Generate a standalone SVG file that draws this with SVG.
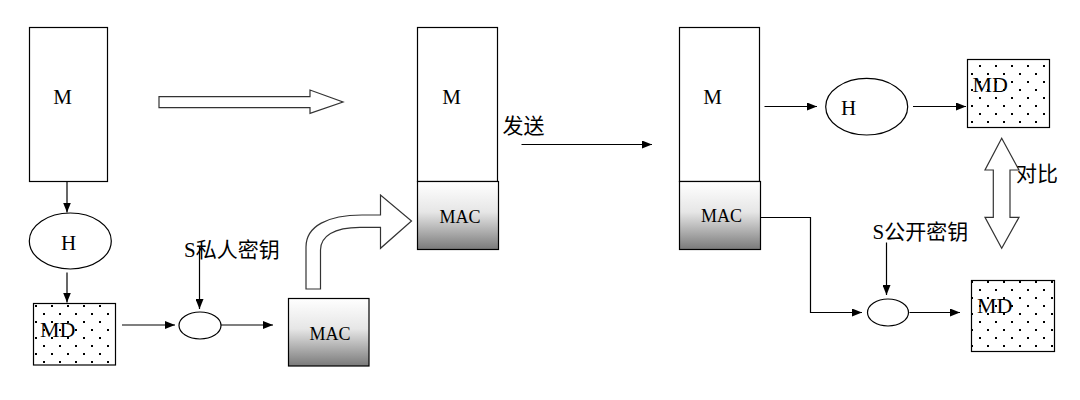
<svg xmlns="http://www.w3.org/2000/svg" width="1080" height="400" viewBox="0 0 1080 400">
<defs>
<style>
.box{fill:#fff;stroke:#000;stroke-width:1.2}
.mac{fill:url(#g);stroke:#000;stroke-width:1.2}
.md{fill:url(#dots);stroke:#000;stroke-width:1.2}
.ell{fill:#fff;stroke:#000;stroke-width:1.2}
.blk{fill:#fff;stroke:#333;stroke-width:1.2}
.ln{fill:none;stroke:#000;stroke-width:1.2;marker-end:url(#ah)}
.t{font-family:"Liberation Serif","Noto Sans CJK SC",serif;font-size:21px;fill:#000}
.ts{font-family:"Liberation Serif","Noto Sans CJK SC",serif;font-size:18px;fill:#000;text-anchor:middle}
.c{text-anchor:middle}
.cjk{font-family:"Liberation Serif","Noto Sans CJK SC",sans-serif;font-size:21px;fill:#000}
</style>
<linearGradient id="g" x1="0" y1="0" x2="0" y2="1">
<stop offset="0" stop-color="#ffffff"/>
<stop offset="0.45" stop-color="#e6e6e6"/>
<stop offset="1" stop-color="#7a7a7a"/>
</linearGradient>
<pattern id="dots" patternUnits="userSpaceOnUse" x="3" y="1" width="16" height="16">
<rect width="16" height="16" fill="#fff"/>
<rect x="0" y="0" width="2" height="2" fill="#000"/>
<rect x="8" y="8" width="2" height="2" fill="#000"/>
</pattern>
<marker id="ah" markerUnits="userSpaceOnUse" markerWidth="10" markerHeight="8" refX="10" refY="4" orient="auto">
<path d="M0,0 L10,4 L0,8 Z" fill="#000"/>
</marker>
</defs>
<rect width="1080" height="400" fill="#fff"/>

<g id="connectors">
<line class="ln" x1="67" y1="181" x2="67" y2="212.5"/>
<line class="ln" x1="67" y1="272.5" x2="67" y2="302.5"/>
<line class="ln" x1="122" y1="325" x2="175" y2="325"/>
<line class="ln" x1="221" y1="325" x2="273" y2="325"/>
<line class="ln" x1="199.5" y1="247" x2="199.5" y2="309"/>
<line class="ln" x1="521.5" y1="144.5" x2="652" y2="144.5"/>
<line class="ln" x1="764.5" y1="106.5" x2="817" y2="106.5"/>
<line class="ln" x1="913" y1="106.5" x2="966" y2="106.5"/>
<polyline class="ln" points="757.5,217.5 810.5,217.5 810.5,312.5 862,312.5"/>
<line class="ln" x1="886.5" y1="242.5" x2="886.5" y2="295"/>
<line class="ln" x1="909.5" y1="312.5" x2="960" y2="312.5"/>
</g>

<g id="arrow-right-hollow">
<polygon class="blk" points="159,96.7 310,96.7 310,90 343,102 310,113.3 310,107.7 159,107.7"/>
</g>
<g id="arrow-curved">
<path class="blk" d="M306,289 L306,247 C306,226 328,215 362,215 L380.5,215 L380.5,195 L411.5,221 L380.5,248.3 L380.5,227.3 L360,227.3 C334,227.3 320.5,236 320.5,250 L320.5,289 Z"/>
</g>
<g id="arrow-compare">
<polygon class="blk" points="1001.7,138.3 1019,170 1010,170 1010,217.3 1019,217.3 1001.7,248.3 985,217.3 993.3,217.3 993.3,170 985,170"/>
<text class="cjk" x="1016" y="181">对比</text>
</g>

<g id="sender-M">
<rect class="box" x="29.5" y="27.5" width="78" height="154"/>
<text class="t c" x="62.5" y="104">M</text>
</g>
<g id="sender-H">
<ellipse class="ell" cx="70.3" cy="241" rx="41" ry="28"/>
<text class="t c" x="68.5" y="250">H</text>
</g>
<g id="sender-MD">
<rect class="md" x="33.5" y="303.5" width="82" height="61.5"/>
<text class="t" x="40" y="337" style="font-size:22px">MD</text>
</g>
<g id="sender-encrypt">
<ellipse class="ell" cx="200" cy="325.5" rx="21" ry="13.5"/>
<text class="cjk" x="184" y="257">S私人密钥</text>
</g>
<g id="sender-MAC">
<rect class="mac" x="288.5" y="298.5" width="80.5" height="67.5"/>
<text class="ts" x="330" y="340">MAC</text>
</g>

<g id="message">
<rect class="box" x="417.5" y="27.5" width="80" height="154"/>
<text class="t c" x="451.5" y="104">M</text>
<rect class="mac" x="417.5" y="181.5" width="81" height="68"/>
<text class="ts" x="460" y="222.5">MAC</text>
<text class="cjk" x="502.5" y="133">发送</text>
</g>

<g id="receiver-message">
<rect class="box" x="679.5" y="27.5" width="80" height="154"/>
<text class="t c" x="712.5" y="104">M</text>
<rect class="mac" x="679.5" y="181.5" width="81" height="68"/>
<text class="ts" x="721.5" y="222">MAC</text>
</g>
<g id="receiver-H">
<ellipse class="ell" cx="866.7" cy="106.7" rx="41" ry="28.3"/>
<text class="t c" x="848.5" y="114.5">H</text>
</g>
<g id="receiver-MD1">
<rect class="md" x="967.5" y="59.5" width="82" height="68"/>
<text class="t" x="972.5" y="92" style="font-size:22px">MD</text>
</g>
<g id="receiver-decrypt">
<ellipse class="ell" cx="888" cy="312.5" rx="20.5" ry="13.5"/>
<text class="cjk" x="872.5" y="239">S公开密钥</text>
</g>
<g id="receiver-MD2">
<rect class="md" x="971.5" y="280.5" width="83" height="71"/>
<text class="t" x="977" y="313" style="font-size:22px">MD</text>
</g>
</svg>
